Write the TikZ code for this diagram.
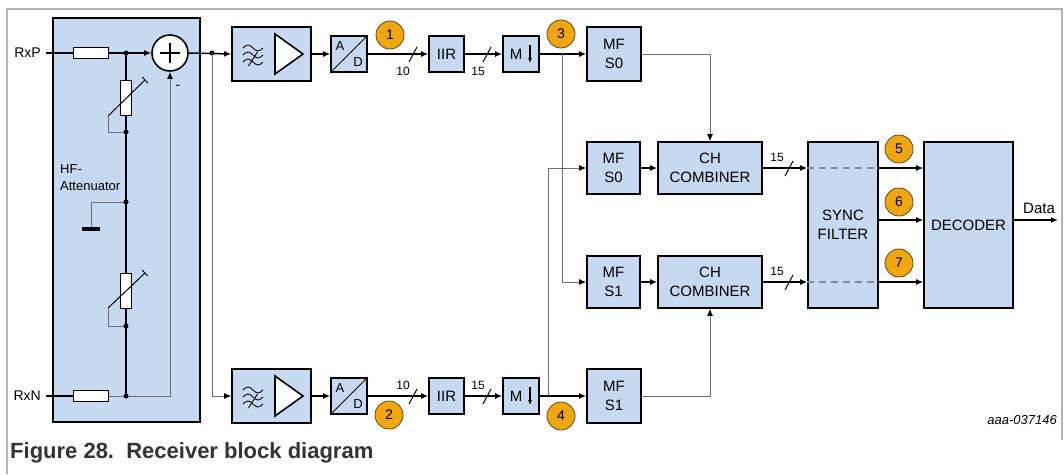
\documentclass[tikz,border=0pt]{standalone}
\usepackage{fontspec}
\setmainfont{Liberation Sans}
\usetikzlibrary{arrows.meta,calc}
\definecolor{boxblue}{HTML}{C6D9F0}
\definecolor{circorange}{HTML}{F2A60D}
\definecolor{circedge}{HTML}{5A4A20}
\definecolor{linegray}{HTML}{6E6E6E}
\definecolor{dashgray}{HTML}{7F8C9C}
\definecolor{framegray}{HTML}{B4B4B4}
\definecolor{captiongray}{HTML}{333333}
\begin{document}
\begin{tikzpicture}[x=1pt,y=-1pt,
  blk/.style={draw, line width=1.6pt, fill=boxblue, inner sep=0pt, align=center,
              font=\fontsize{15}{19}\selectfont},
  sig/.style={line width=1.5pt},
  gl/.style={line width=1pt, draw=linegray},
  arr/.style={-{Latex[length=7pt,width=6pt]}},
  garr/.style={-{Latex[length=7pt,width=6pt,color=black]}},
  res/.style={draw, line width=1pt, fill=white, inner sep=0pt},
  dot/.style={circle, fill=black, inner sep=0pt, minimum size=5pt},
  num/.style={circle, draw=circedge, line width=0.8pt, fill=circorange, inner sep=0pt,
              minimum size=28pt, font=\fontsize{14}{14}\selectfont},
  lbl/.style={inner sep=0pt, font=\fontsize{12}{12}\selectfont},
  txt/.style={inner sep=0pt, font=\fontsize{14}{14}\selectfont},
  bus/.style={line width=1pt},
]
\useasboundingbox (0,0) rectangle (1064,474);
% frame
\draw[framegray, line width=1.5pt] (7,474) -- (7,9) -- (1062,9) -- (1062,440);

% ---------------- attenuator block ----------------
\node[blk, minimum width=147pt, minimum height=404pt] (att) at (126.5,220) {};
\node[txt, anchor=east] (rxp) at (41,53) {RxP};
\node[txt, anchor=east] (rxn) at (41,396) {RxN};
\coordinate (rxpin) at (46,53);
\coordinate (rxnin) at (46,396);
\node[res, minimum width=35pt, minimum height=11pt] (r1) at (90.5,53) {};
\node[res, minimum width=35pt, minimum height=11pt] (r2) at (90.5,396) {};
\node[circle, draw, line width=1.6pt, fill=white, minimum size=36pt, inner sep=0pt] (sum) at (170,53) {};
\draw[line width=2pt] ($(sum.center)+(-10,0)$) -- ($(sum.center)+(10,0)$)
                      ($(sum.center)+(0,-10)$) -- ($(sum.center)+(0,10)$);
\node[res, minimum width=11pt, minimum height=35pt] (vr1) at (126,97.5) {};
\node[res, minimum width=11pt, minimum height=35pt] (vr2) at (126,290.5) {};
\coordinate (j1) at (126,53);
\coordinate (j2) at (212,53);
\coordinate (j3) at (126,132);
\coordinate (j4) at (126,202);
\coordinate (j5) at (126,326);
\coordinate (j6) at (126,396);
\coordinate (fb) at (170,396);
\coordinate (gnd) at (91,202);
\coordinate (gndb) at (91,227);
\coordinate (split) at (212,396);

\draw[sig] (rxpin) -- (r1.west);
\draw[sig] (r1.east) -- (j1);
\draw[sig, arr] (j1) -- (sum.west);
\draw[sig] (j1) -- (vr1.north);
\draw[sig] (vr1.south) -- (j4);
\draw[sig] (j4) -- (vr2.north);
\draw[sig] (vr2.south) -- (j6);
\draw[sig] (rxnin) -- (r2.west);
\draw[gl, garr] (r2.east) -- (fb) -- (sum.south);
% variable resistor wipers
\draw[line width=1pt] (108,116) -- (145,80);
\draw[line width=1pt] (142.2,77.1) -- (147.8,82.9);
\draw[gl] (108,116) -- (108,132) -- (j3);
\draw[line width=1pt] (108,308) -- (145,273);
\draw[line width=1pt] (142.2,270.1) -- (147.8,275.9);
\draw[gl] (108,308) -- (108,326) -- (j5);
% ground
\draw[gl] (j4) -- (gnd) -- (gndb);
\draw[line width=4pt] (82,229) -- (100,229);
\foreach \p in {j1,j2,j3,j4,j5,j6} \node[dot] at (\p) {};
\node[txt] (minus) at (178,87) {-};
\node[anchor=west, align=left, inner sep=0pt, font=\fontsize{13}{17}\selectfont] (hf) at (60,178) {HF-\\Attenuator};

% ---------------- front-end blocks ----------------
\node[blk, minimum width=79pt, minimum height=54pt] (amp1) at (271.5,54) {};
\node[blk, minimum width=79pt, minimum height=54pt] (amp2) at (271.5,396) {};
\foreach \a in {amp1,amp2} {
  \draw[line width=1.6pt, fill=white] ($(\a.center)+(3.5,-20)$) -- ($(\a.center)+(31.5,0)$) -- ($(\a.center)+(3.5,20)$) -- cycle;
  \foreach \dy in {-6,1,8} {
    \draw[line width=0.9pt] ($(\a.center)+(-28.5,\dy)$) sin ++(5,-3) cos ++(5,3) sin ++(5,3) cos ++(5,-3);
  }
  \draw[line width=0.9pt] ($(\a.center)+(-23,12)$) -- ($(\a.center)+(-14,-2)$);
}
\draw[sig, arr] (sum.east) -- (amp1.west);
\draw[gl, garr] (j2) -- (split) -- (amp2.west);

\node[blk, minimum size=36pt] (ad1) at (349,54) {};
\node[blk, minimum size=36pt] (ad2) at (349,396) {};
\foreach \a in {ad1,ad2} {
  \draw[line width=1pt] (\a.south west) -- (\a.north east);
  \node[inner sep=0pt, font=\fontsize{13}{13}\selectfont] at ($(\a.center)+(-9,-8)$) {A};
  \node[inner sep=0pt, font=\fontsize{13}{13}\selectfont] at ($(\a.center)+(9,8)$) {D};
}
\draw[sig, arr] (amp1.east) -- (ad1.west);
\draw[sig, arr] (amp2.east) -- (ad2.west);

\node[blk, minimum width=35pt, minimum height=36pt] (iir1) at (446.5,54) {IIR};
\node[blk, minimum width=35pt, minimum height=36pt] (iir2) at (446.5,396) {IIR};
\draw[sig, arr] (ad1.east) -- (iir1.west);
\draw[sig, arr] (ad2.east) -- (iir2.west);
\draw[bus] (409,62) -- (417,47);
\node[lbl] (l10a) at (403,71) {10};
\draw[bus] (409,404) -- (417,389);
\node[lbl] (l10b) at (403,385) {10};

\node[blk, minimum size=36pt] (m1) at (521,54) {};
\node[blk, minimum size=36pt] (m2) at (521,396) {};
\foreach \a in {m1,m2} {
  \node[inner sep=0pt, font=\fontsize{15}{15}\selectfont] at ($(\a.center)+(-5,0)$) {M};
  \draw[line width=1.2pt, -{Latex[length=5pt,width=4pt]}] ($(\a.center)+(9,-9)$) -- ($(\a.center)+(9,9)$);
}
\draw[sig, arr] (iir1.east) -- (m1.west);
\draw[sig, arr] (iir2.east) -- (m2.west);
\draw[bus] (483,62) -- (491,47);
\node[lbl] (l15a) at (478,71) {15};
\draw[bus] (483,404) -- (491,389);
\node[lbl] (l15b) at (478,385) {15};

% ---------------- matched filters ----------------
\node[blk, minimum size=54pt] (mfa) at (614,54) {MF\\S0};
\node[blk, minimum width=53pt, minimum height=52pt] (mfb) at (613.5,168) {MF\\S0};
\node[blk, minimum width=53pt, minimum height=52pt] (mfc) at (613.5,282) {MF\\S1};
\node[blk, minimum size=54pt] (mfd) at (614,396) {MF\\S1};
\node[blk, minimum width=104pt, minimum height=52pt] (ch1) at (710,168) {CH\\COMBINER};
\node[blk, minimum width=104pt, minimum height=52pt] (ch2) at (710,282) {CH\\COMBINER};

\coordinate (b1) at (562,54);
\coordinate (b2) at (548,396);
\draw[sig, arr] (m1.east) -- (mfa.west);
\draw[sig, arr] (m2.east) -- (mfd.west);
\draw[gl, garr] (b1) |- (mfc.west);
\draw[gl, garr] (b2) |- (mfb.west);
\draw[sig, arr] (mfb.east) -- (ch1.west);
\draw[sig, arr] (mfc.east) -- (ch2.west);
\draw[gl, garr] (mfa.east) -| (ch1.north);
\draw[gl, garr] (mfd.east) -| (ch2.south);

% ---------------- sync filter & decoder ----------------
\node[blk, minimum width=70pt, minimum height=166pt] (sync) at (843,225) {SYNC\\FILTER};
\node[blk, minimum width=89pt, minimum height=166pt] (dec) at (968.5,225) {DECODER};
\draw[sig, arr] (ch1.east) -- (ch1.east -| sync.west);
\draw[sig, arr] (ch2.east) -- (ch2.east -| sync.west);
\draw[bus] (785,176) -- (793,161);
\node[lbl] (l15c) at (777,157) {15};
\draw[bus] (785,290) -- (793,275);
\node[lbl] (l15d) at (777,271) {15};
\draw[dashgray, line width=1.2pt, dash pattern=on 7pt off 5pt] (ch1.east -| sync.west) -- (ch1.east -| sync.east);
\draw[dashgray, line width=1.2pt, dash pattern=on 7pt off 5pt] (ch2.east -| sync.west) -- (ch2.east -| sync.east);
\coordinate (s6) at (sync.east |- 0,220);
\draw[sig, arr] (ch1.east -| sync.east) -- (ch1.east -| dec.west);
\draw[sig, arr] (s6) -- (s6 -| dec.west);
\draw[sig, arr] (ch2.east -| sync.east) -- (ch2.east -| dec.west);
\coordinate (d6) at (dec.east |- 0,220);
\coordinate (dataend) at (1058,220);
\draw[sig, arr] (d6) -- (dataend);
\node[inner sep=0pt, font=\fontsize{15}{15}\selectfont] (data) at (1039,208) {Data};

% ---------------- numbered markers ----------------
\node[num] (n1) at (390,35) {1};
\node[num] (n2) at (389,415) {2};
\node[num] (n3) at (561,34) {3};
\node[num] (n4) at (561,416) {4};
\node[num] (n5) at (899,149) {5};
\node[num] (n6) at (899,202) {6};
\node[num] (n7) at (899,263) {7};

% ---------------- captions ----------------
\node[anchor=east, inner sep=0pt, font=\itshape\fontsize{13}{13}\selectfont] (ref) at (1057,420) {aaa-037146};
\node[anchor=base west, inner sep=0pt, text=captiongray, font=\bfseries\fontsize{22}{22}\selectfont] (cap) at (10,458) {Figure 28.\ \ Receiver block diagram};
\end{tikzpicture}
\end{document}
